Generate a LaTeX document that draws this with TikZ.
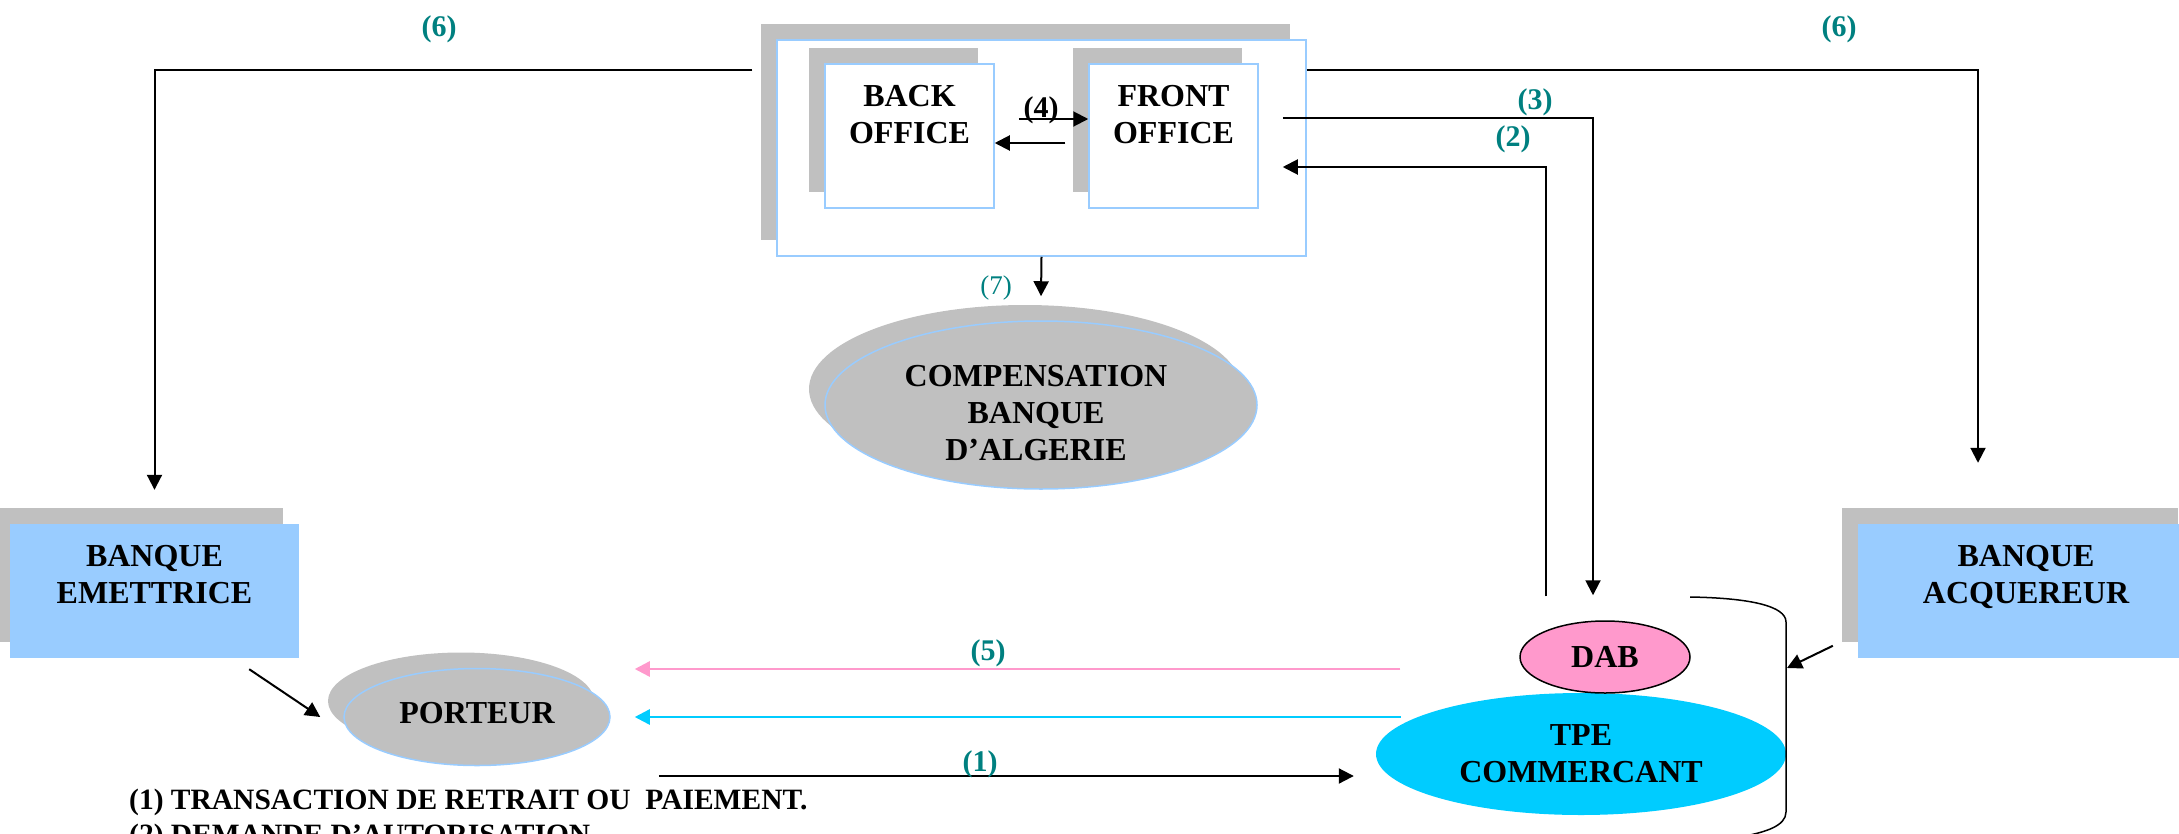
\documentclass[tikz,border=0pt]{standalone}
\usepackage{fontspec}
\setmainfont{Liberation Serif}
\usetikzlibrary{arrows.meta,positioning,shapes.geometric,shadows}
\definecolor{sarcelle}{RGB}{0,128,128}
\definecolor{bleuclair}{RGB}{153,204,255}
\definecolor{ombre}{RGB}{192,192,192}
\definecolor{rose}{RGB}{255,153,204}
\definecolor{cyanvif}{RGB}{0,204,255}
\tikzset{
  ombrage/.style={general shadow={fill=ombre,shadow xshift=-16pt,shadow yshift=16pt}},
  cadre/.style={draw=bleuclair,line width=1.5pt,fill=white,ombrage,inner sep=0pt},
  banque/.style={fill=bleuclair,ombrage,minimum width=289pt,minimum height=134pt,inner sep=0pt},
  bulle/.style={ellipse,inner sep=0pt},
  titre/.style={font=\bfseries\fontsize{32}{37}\selectfont,align=center,inner sep=0pt},
  num/.style={text=sarcelle,font=\bfseries\fontsize{30}{36}\selectfont,inner sep=0pt},
  fleche/.style={-{Triangle[length=15pt,width=15pt]},line width=2pt},
}
\begin{document}
\begin{tikzpicture}[x=1pt,y=-1pt]
  \useasboundingbox (0,0) rectangle (2179,833);
  % systeme d'information
  \node[cadre,minimum width=529pt,minimum height=216pt] (si) at (1041.5,148) {};
  \foreach \n/\x in {bo/909.5,fo/1173.5}{\node[cadre,minimum width=169pt,minimum height=144pt] (\n) at (\x,136) {};}
  \node[titre,below=22pt of bo.north] (tbo) {BACK\\OFFICE};
  \node[titre,below=22pt of fo.north] (tfo) {FRONT\\OFFICE};
  % banques
  \node[banque] (be) at (154.5,591) {};
  \node[banque,minimum width=336pt] (ba) at (2026,591) {};
  \node[titre,below=21pt of be.north] (tbe) {BANQUE\\EMETTRICE};
  \node[titre,below=21pt of ba.north] (tba) {BANQUE\\ACQUEREUR};
  % ellipses
  \node[bulle,fill=ombre,draw=bleuclair,line width=1.5pt,ombrage,minimum width=432pt,minimum height=168pt] (comp) at (1041,405) {};
  \node[titre] (tcomp) at (1036,413) {COMPENSATION\\BANQUE\\D’ALGERIE};
  \node[bulle,fill=ombre,draw=bleuclair,line width=1.5pt,ombrage,minimum width=266pt,minimum height=97pt] (port) at (477,717) {};
  \node[titre] (tport) at (477,713) {PORTEUR};
  \node[bulle,titre,fill=cyanvif,minimum width=410pt,minimum height=122pt] (tpe) at (1581,754) {TPE\\COMMERCANT};
  \node[bulle,titre,fill=rose,draw,line width=1.5pt,minimum width=170pt,minimum height=72pt] (dab) at (1605,657) {DAB};
  % fleches
  \draw[fleche] ([xshift=-24pt,yshift=-31pt]si.north west) -| ([yshift=34pt]be.north);
  \draw[fleche] ([yshift=-31pt]si.north east) -| ([xshift=-48pt,yshift=61pt]ba.north);
  \draw[fleche] ([xshift=24pt,yshift=-55pt]fo.north east) -| ([xshift=-12pt,yshift=25pt]dab.north);
  \draw[fleche] ([xshift=-59pt,yshift=24pt]dab.north) |- ([xshift=24pt,yshift=-31pt]fo.east);
  \draw[fleche] ([xshift=24pt,yshift=17pt]bo.east) -- ([yshift=17pt]fo.west);
  \draw[fleche] ([xshift=-23pt,yshift=-7pt]fo.west) -- ([yshift=-7pt]bo.east);
  \draw[fleche] (si.south) -- ([yshift=24pt]comp.north);
  \draw[fleche] ([xshift=-50pt,yshift=-11pt]be.south east) -- ([xshift=-23pt]port.west);
  \draw[fleche,rose,line width=2.5pt] ([xshift=-119pt,yshift=-12pt]dab.west) -- ([xshift=24pt,yshift=48pt]port.east);
  \draw[fleche,cyanvif,line width=2.5pt] ([xshift=25pt,yshift=37pt]tpe.west) -- ([xshift=24pt]port.east);
  \draw[fleche] ([xshift=48pt,yshift=-59pt]port.east) -- ([xshift=-22pt,yshift=-22pt]tpe.west);
  % terminal
  \draw[line width=1.5pt] (1690,597) .. controls (1750,598) and (1786,606) .. (1786,622) -- (1786,812) .. controls (1786,826) and (1765,832) .. (1745,836);
  \coordinate (crochet) at (1787,668);
  \draw[fleche] ([xshift=-25pt,yshift=-122pt]ba.north west) -- (crochet);
  % numeros
  \foreach \n/\x/\y in {6/439/29,6/1839/29,3/1535/102,2/1513/139,5/988/653,1/980/764}{\node[num] (n\x) at (\x,\y) {(\n)};}
  \node[num,text=black] (n4) at (1041,110) {(4)};
  \node[num,font=\fontsize{27}{32}\selectfont] (n7) at (996,288) {(7)};
  \node[anchor=north west,align=left,inner sep=0pt,font=\bfseries\fontsize{29.5}{35}\selectfont] (leg) at (129,789) {(1) TRANSACTION DE RETRAIT OU\ \ PAIEMENT.\\(2) DEMANDE D’AUTORISATION};
\end{tikzpicture}
\end{document}
